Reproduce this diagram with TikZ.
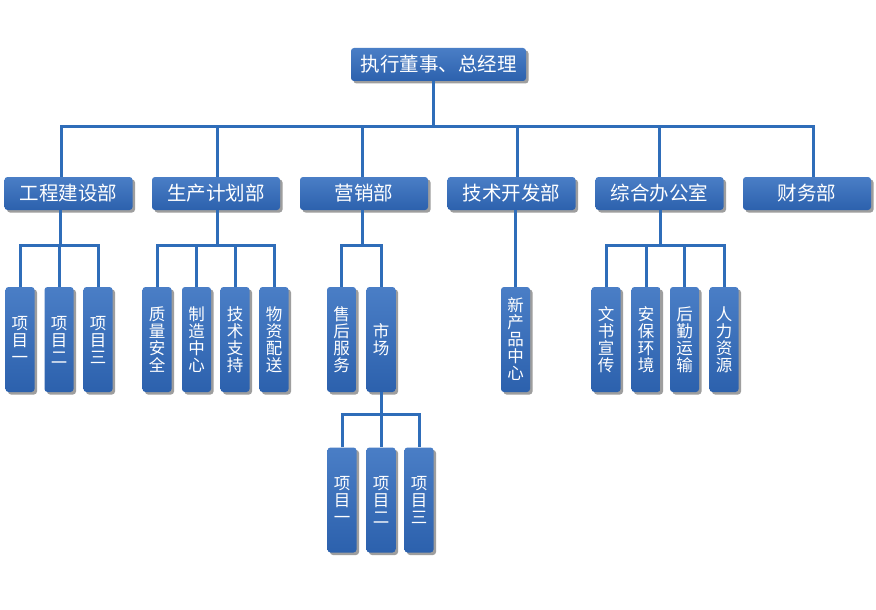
\documentclass[tikz,border=0pt]{standalone}
\usepackage{fontspec}
\newfontfamily\cjk{Noto Sans CJK SC}
\usetikzlibrary{shadows}
\definecolor{linec}{HTML}{2F6DB9}
\definecolor{boxtop}{HTML}{4A7EC6}
\definecolor{boxbot}{HTML}{2C61AD}
\begin{document}
\begin{tikzpicture}[x=1pt,y=-1pt,
  box/.style={rounded corners=3pt, top color=boxtop, bottom color=boxbot, draw=none,
    text=white, inner sep=0pt,
    general shadow={fill=black!38, shadow xshift=2.5pt, shadow yshift=-2.5pt}},
  topbox/.style={box, minimum width=175pt, minimum height=33pt, font=\cjk\fontsize{19.5}{20}\selectfont},
  dept/.style={box, minimum width=128pt, minimum height=33pt, font=\cjk\fontsize{19.5}{20}\selectfont},
  leaf/.style={box, minimum width=29pt, minimum height=105pt, align=center,
    font=\cjk\fontsize{16.5}{17}\selectfont},
  conn/.style={draw=linec, line width=3pt}]
\fill[white] (0,0) rectangle (876,610);
\useasboundingbox (0,0) rectangle (876,610);

% top
\node[topbox] (top) at (438.5,64.5) {执行董事、总经理};

% departments
\node[dept] (d1) at (68.5,193.5) {工程建设部};
\node[dept] (d2) at (216,193.5) {生产计划部};
\node[dept] (d3) at (364,193.5) {营销部};
\node[dept] (d4) at (511.5,193.5) {技术开发部};
\node[dept] (d5) at (659.5,193.5) {综合办公室};
\node[dept] (d6) at (807,193.5) {财务部};

% leaves
\node[leaf] (a1) at (20,339.5) {项\\目\\一};
\node[leaf] (a2) at (59,339.5) {项\\目\\二};
\node[leaf] (a3) at (98,339.5) {项\\目\\三};

\node[leaf] (g1) at (157,339.5) {质\\量\\安\\全};
\node[leaf] (g2) at (196.5,339.5) {制\\造\\中\\心};
\node[leaf] (g3) at (235,339.5) {技\\术\\支\\持};
\node[leaf] (g4) at (274,339.5) {物\\资\\配\\送};

\node[leaf] (c1) at (341.5,339.5) {售\\后\\服\\务};
\node[leaf] (c2) at (381,339.5) {市\\场};

\node[leaf] (n1) at (515.5,339.5) {新\\产\\品\\中\\心};

\node[leaf] (e1) at (606,339.5) {文\\书\\宣\\传};
\node[leaf] (e2) at (646,339.5) {安\\保\\环\\境};
\node[leaf] (e3) at (684.5,339.5) {后\\勤\\运\\输};
\node[leaf] (e4) at (724,339.5) {人\\力\\资\\源};

\node[leaf] (m1) at (342,500) {项\\目\\一};
\node[leaf] (m2) at (381,500) {项\\目\\二};
\node[leaf] (m3) at (419,500) {项\\目\\三};

% bus coordinates
\coordinate (pt) at (433,126);
\coordinate (p1) at (61,126);
\coordinate (p2) at (217,126);
\coordinate (p3) at (362,126);
\coordinate (p4) at (517,126);
\coordinate (p5) at (659,126);
\coordinate (p6) at (813,126);
\coordinate (s1) at (60,245);
\coordinate (s2) at (217,245);
\coordinate (s3) at (362,245);
\coordinate (s4) at (515.5,245);
\coordinate (s5) at (660,245);
\coordinate (sm) at (381,414);

% top level
\draw[conn] (top.south -| pt) -- (pt);
\draw[conn] (d1.north -| p1) -- (p1) -- (p6) -- (d6.north -| p6);
\draw[conn] (p2) -- (d2.north -| p2);
\draw[conn] (p3) -- (d3.north -| p3);
\draw[conn] (p4) -- (d4.north -| p4);
\draw[conn] (p5) -- (d5.north -| p5);

% 工程建设部
\draw[conn] (d1.south -| s1) -- (s1);
\draw[conn] (a1.north) -- (a1.north |- s1) -- (a3.north |- s1) -- (a3.north);
\draw[conn] (a2.north |- s1) -- (a2.north);

% 生产计划部
\draw[conn] (d2.south -| s2) -- (s2);
\draw[conn] (g1.north) -- (g1.north |- s2) -- (g4.north |- s2) -- (g4.north);
\draw[conn] (g2.north |- s2) -- (g2.north);
\draw[conn] (g3.north |- s2) -- (g3.north);

% 营销部
\draw[conn] (d3.south -| s3) -- (s3);
\draw[conn] (c1.north) -- (c1.north |- s3) -- (c2.north |- s3) -- (c2.north);

% 市场
\draw[conn] (c2.south) -- (sm);
\draw[conn] (m1.north) -- (m1.north |- sm) -- (m3.north |- sm) -- (m3.north);
\draw[conn] (m2.north |- sm) -- (m2.north);

% 技术开发部
\draw[conn] (d4.south -| s4) -- (n1.north);

% 综合办公室
\draw[conn] (d5.south -| s5) -- (s5);
\draw[conn] (e1.north) -- (e1.north |- s5) -- (e4.north |- s5) -- (e4.north);
\draw[conn] (e2.north |- s5) -- (e2.north);
\draw[conn] (e3.north |- s5) -- (e3.north);
\end{tikzpicture}
\end{document}
